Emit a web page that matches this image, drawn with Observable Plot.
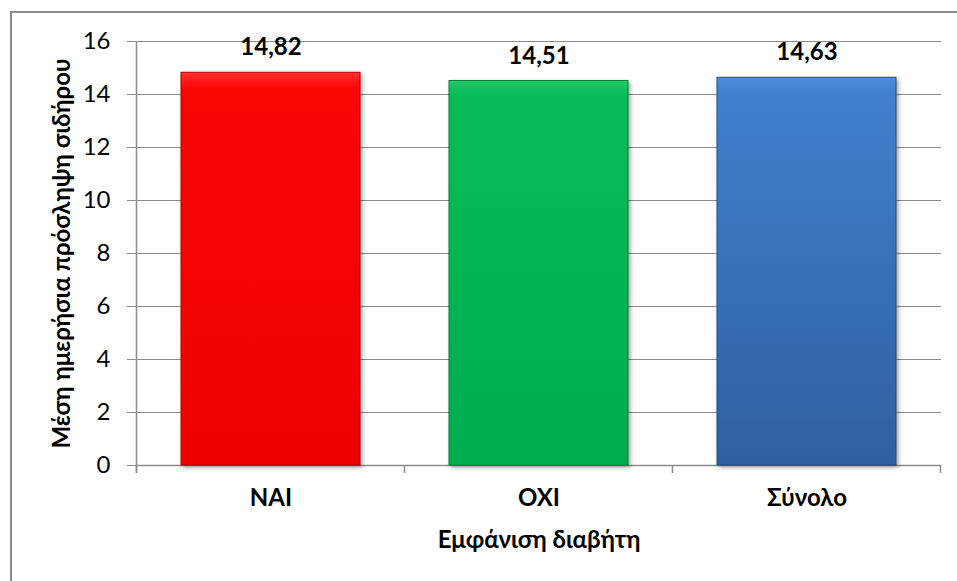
<!DOCTYPE html>
<html>
<head>
<meta charset="utf-8">
<script src="https://cdn.jsdelivr.net/npm/d3@7"></script>
<script src="https://cdn.jsdelivr.net/npm/@observablehq/plot@0.6"></script>
<style>
  html, body { margin: 0; padding: 0; background: #fff; overflow: hidden; }
  #wrap { position: relative; width: 957px; height: 581px; }
  #border { position: absolute; left: 10px; top: 11px; width: 960px; height: 600px; border: 2px solid #8c8c8c; box-sizing: border-box; }
  #chart { position: absolute; left: 0; top: 0; }
  #chart svg { font-family: Lato, "Open Sans", sans-serif; }
  .bars rect { filter: drop-shadow(2px 2px 2px rgba(0,0,0,0.35)); }
</style>
</head>
<body>
<div id="wrap"><div id="border"></div><div id="chart"></div></div>
<script>
const categories = ["NAI", "OXI", "Σύνολο"];
const values = [14.82, 14.51, 14.63];
const yTicks = [0, 2, 4, 6, 8, 10, 12, 14, 16];
const yTitle = "Μέση ημερήσια πρόσληψη σιδήρου";
const xTitle = "Εμφάνιση διαβήτη";
const gradients = [
  ["#ff3030", "#fb0505", "#ee0000"],
  ["#20c86a", "#08bb58", "#00ad4e"],
  ["#4d8fdc", "#4080cf", "#2f5f9f"]
];
const edgeColors = ["#b00000", "#00803a", "#244a80"];

const data = categories.map((c, i) => ({category: c, value: values[i], id: "g" + i}));
const fmt = v => v.toFixed(2).replace(".", ",");

const plot = Plot.plot({
  width: 957,
  height: 581,
  marginLeft: 136,
  marginRight: 16,
  marginTop: 41,
  marginBottom: 116,
  style: {fontSize: "24px", color: "#000", background: "transparent", overflow: "visible"},
  x: {domain: categories, paddingInner: 1/3, paddingOuter: 1/6, label: null},
  y: {domain: [0, 16], label: null},
  color: {type: "ordinal", domain: data.map(d => d.id), range: data.map(d => `url(#${d.id})`)},
  marks: [
    Plot.gridY(yTicks, {stroke: "#8c8c8c", strokeOpacity: 1, strokeWidth: 1.2}),
    Plot.ruleY([0], {stroke: "#8c8c8c", strokeWidth: 1.5}),
    Plot.barY(data, {x: "category", y: "value", fill: "id", stroke: (d, i) => edgeColors[i], strokeWidth: 1, className: "bars"}),
    Plot.text(data, {x: "category", y: "value", text: d => fmt(d.value), dy: -25, fontWeight: "bold", fontSize: 24, fill: "#000"}),
    Plot.axisY(yTicks, {tickSize: 9, tickPadding: 17, stroke: "#8c8c8c", fontSize: 24, tickFormat: d => String(d)}),
    Plot.axisX({tickSize: 0, tickPadding: 23, fontSize: 24, fontWeight: "bold", label: null}),
    Plot.text([xTitle], {frameAnchor: "bottom", dy: 75, fontWeight: "bold", fontSize: 24, lineAnchor: "middle"}),
    Plot.text([yTitle], {frameAnchor: "left", dx: -74, rotate: -90, textAnchor: "middle", fontWeight: "bold", fontSize: 24, lineAnchor: "middle"})
  ]
});

document.getElementById("chart").appendChild(plot);

// gradients
const svg = d3.select(plot);
const defs = svg.insert("defs", ":first-child");
data.forEach((d, i) => {
  const g = defs.append("linearGradient").attr("id", d.id).attr("x1", 0).attr("y1", 0).attr("x2", 0).attr("y2", 1);
  g.append("stop").attr("offset", "0%").attr("stop-color", gradients[i][0]);
  g.append("stop").attr("offset", "4%").attr("stop-color", gradients[i][1]);
  g.append("stop").attr("offset", "100%").attr("stop-color", gradients[i][2]);
});

// y axis line and category boundary ticks, from the plot's own scales
const xs = plot.scale("x");
const ys = plot.scale("y");
const y0 = ys.apply(0), yTop = ys.apply(16);
const half = (xs.step - xs.bandwidth) / 2;
const bounds = categories.map(c => xs.apply(c) - half).concat([xs.apply(categories[categories.length - 1]) + xs.bandwidth + half]);
const ax = svg.append("g").attr("stroke", "#8c8c8c").attr("stroke-width", 1.5);
ax.append("line").attr("x1", bounds[0]).attr("x2", bounds[0]).attr("y1", yTop).attr("y2", y0 + 8);
bounds.forEach(b => ax.append("line").attr("x1", b).attr("x2", b).attr("y1", y0).attr("y2", y0 + 8));
</script>
</body>
</html>
